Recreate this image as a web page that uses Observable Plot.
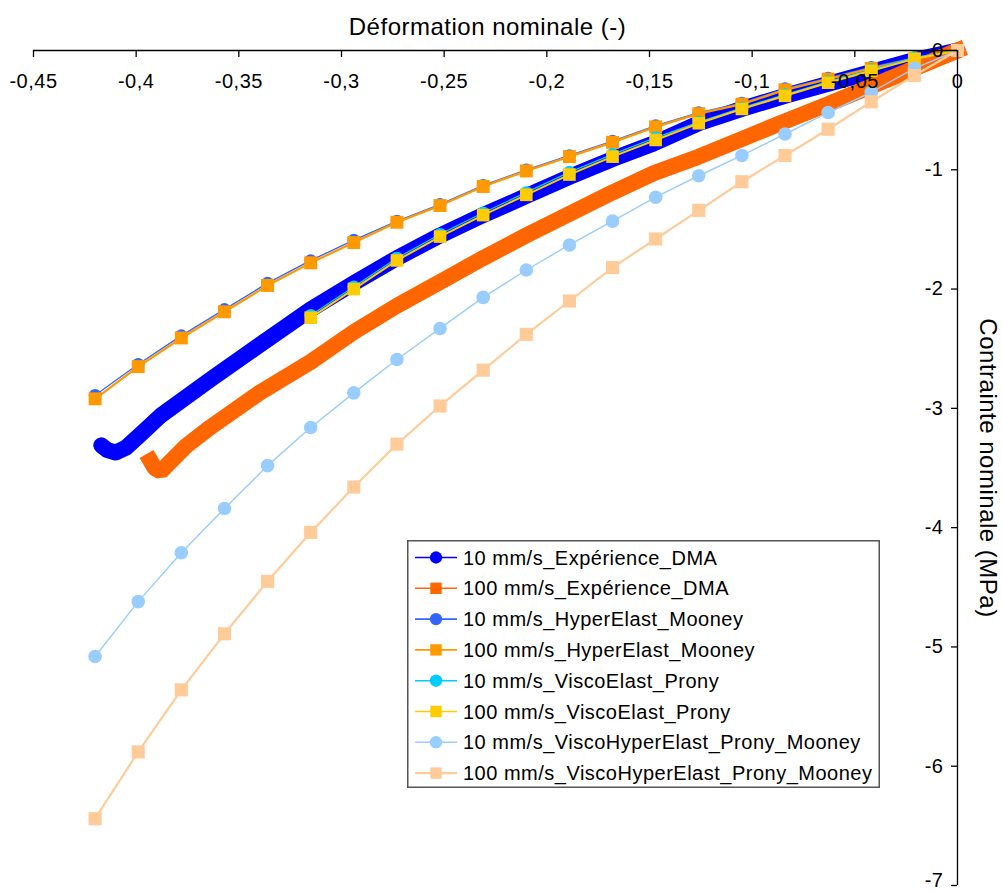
<!DOCTYPE html>
<html>
<head>
<meta charset="utf-8">
<script src="https://cdn.jsdelivr.net/npm/d3@7"></script>
<script src="https://cdn.jsdelivr.net/npm/@observablehq/plot@0.6"></script>
<style>
  html, body { margin: 0; padding: 0; background: white; }
  #wrap { position: relative; width: 1002px; height: 891px; font-family: "Liberation Sans", Arial, sans-serif; }
  #legend { position: absolute; left: 407px; top: 540px; }
</style>
</head>
<body>
<div id="wrap"></div>
<script>
// ---- axis ticks ----
const xTickValues = [-0.45, -0.4, -0.35, -0.3, -0.25, -0.2, -0.15, -0.1, -0.05, 0];
const xTickLabels = ["-0,45", "-0,4", "-0,35", "-0,3", "-0,25", "-0,2", "-0,15", "-0,1", "-0,05", "0"];
const yTickValues = [0, -1, -2, -3, -4, -5, -6, -7];
const yTickLabels = ["0", "-1", "-2", "-3", "-4", "-5", "-6", "-7"];

// ---- series names ----
const seriesNames = [
  "10 mm/s_Expérience_DMA",
  "100 mm/s_Expérience_DMA",
  "10 mm/s_HyperElast_Mooney",
  "100 mm/s_HyperElast_Mooney",
  "10 mm/s_ViscoElast_Prony",
  "100 mm/s_ViscoElast_Prony",
  "10 mm/s_ViscoHyperElast_Prony_Mooney",
  "100 mm/s_ViscoHyperElast_Prony_Mooney"
];
const seriesColors = ["#0000FF", "#FF6600", "#3366FF", "#FF9900", "#00CCFF", "#FFCC00", "#99CCFF", "#FFCC99"];
const seriesSymbols = ["circle", "square", "circle", "square", "circle", "square", "circle", "square"];

// ---- experimental data ----
const expStrain10 = [0, -0.021, -0.042, -0.063, -0.084, -0.105, -0.126, -0.148, -0.168, -0.189, -0.21, -0.231, -0.252, -0.273, -0.294, -0.315, -0.340, -0.364, -0.388, -0.398, -0.405, -0.410, -0.414, -0.417];
const expStress10 = [0, -0.08, -0.18, -0.28, -0.38, -0.49, -0.61, -0.78, -0.91, -1.06, -1.22, -1.38, -1.55, -1.74, -1.95, -2.17, -2.47, -2.76, -3.06, -3.22, -3.33, -3.37, -3.35, -3.31];

const expStrain100 = [0, -0.021, -0.042, -0.063, -0.085, -0.106, -0.126, -0.148, -0.168, -0.189, -0.21, -0.231, -0.252, -0.273, -0.294, -0.315, -0.340, -0.364, -0.376, -0.384, -0.388, -0.391, -0.393];
const expStress100 = [0, -0.15, -0.30, -0.45, -0.60, -0.75, -0.89, -1.03, -1.19, -1.37, -1.55, -1.74, -1.94, -2.14, -2.36, -2.61, -2.87, -3.16, -3.32, -3.46, -3.53, -3.50, -3.44];

// ---- model data ----
const strainModel = [-0.42, -0.399, -0.378, -0.357, -0.336, -0.315, -0.294, -0.273, -0.252, -0.231, -0.21, -0.189, -0.168, -0.147, -0.126, -0.105, -0.084, -0.063, -0.042, -0.021, 0];
const mooney10  = [-2.89, -2.63, -2.39, -2.17, -1.95, -1.76, -1.59, -1.43, -1.29, -1.13, -1.00, -0.88, -0.76, -0.63, -0.52, -0.44, -0.32, -0.23, -0.14, -0.06, 0];
const mooney100 = [-2.92, -2.65, -2.41, -2.19, -1.97, -1.78, -1.61, -1.44, -1.30, -1.14, -1.01, -0.89, -0.77, -0.64, -0.53, -0.45, -0.33, -0.24, -0.15, -0.07, 0];

const strainProny = [-0.315, -0.294, -0.273, -0.252, -0.231, -0.21, -0.189, -0.168, -0.147, -0.126, -0.105, -0.084, -0.063, -0.042, -0.021, 0];
const prony10  = [-2.22, -1.98, -1.74, -1.54, -1.36, -1.19, -1.02, -0.87, -0.73, -0.60, -0.48, -0.37, -0.26, -0.16, -0.06, 0];
const prony100 = [-2.24, -2.00, -1.76, -1.56, -1.38, -1.21, -1.04, -0.89, -0.75, -0.61, -0.49, -0.38, -0.27, -0.17, -0.07, 0];

const viscoHyper10  = [-5.08, -4.62, -4.21, -3.84, -3.48, -3.16, -2.87, -2.59, -2.33, -2.07, -1.84, -1.63, -1.43, -1.23, -1.05, -0.88, -0.70, -0.52, -0.35, -0.15, 0];
const viscoHyper100 = [-6.44, -5.88, -5.36, -4.89, -4.45, -4.04, -3.66, -3.30, -2.98, -2.68, -2.38, -2.10, -1.82, -1.58, -1.34, -1.10, -0.88, -0.66, -0.43, -0.21, 0];

// ---- build tables ----
const zip = (xs, ys) => xs.map((x, i) => ({x, y: ys[i]}));
const exp10 = zip(expStrain10, expStress10);
const exp100 = zip(expStrain100, expStress100);
const modelSeries = [
  {data: zip(strainModel, mooney10), i: 2, r: 6.3, sw: 1.3},
  {data: zip(strainModel, mooney100), i: 3, r: 7.3, sw: 2.3},
  {data: zip(strainProny, prony10), i: 4, r: 6.3, sw: 1.3},
  {data: zip(strainProny, prony100), i: 5, r: 7.1, sw: 2},
  {data: zip(strainModel, viscoHyper10), i: 6, r: 6.8, sw: 1.4},
  {data: zip(strainModel, viscoHyper100), i: 7, r: 7.4, sw: 2.2}
];

const W = 1002, H = 891, ML = 33, MR = 45, MT = 50, MB = 6;
const frameW = W - ML - MR, frameH = H - MT - MB;
const FONT = "Liberation Sans, Arial, sans-serif";

const marks = [
  Plot.line(exp10, {x: "x", y: "y", stroke: seriesColors[0], strokeWidth: 16, strokeLinecap: "round", strokeLinejoin: "round"}),
  Plot.line(exp100, {x: "x", y: "y", stroke: seriesColors[1], strokeWidth: 16, strokeLinecap: "square", strokeLinejoin: "miter"})
];
for (const s of modelSeries) {
  marks.push(Plot.line(s.data, {x: "x", y: "y", stroke: seriesColors[s.i], strokeWidth: s.sw}));
  marks.push(Plot.dot(s.data, {x: "x", y: "y", r: s.r, symbol: seriesSymbols[s.i], fill: seriesColors[s.i], stroke: "none"}));
}
marks.push(
  Plot.ruleY([0], {stroke: "black", strokeWidth: 1.3}),
  Plot.ruleX([0], {stroke: "black", strokeWidth: 1.3}),
  Plot.tickX(xTickValues, {x: d => d, stroke: "black", strokeWidth: 1.3, insetBottom: frameH - 7}),
  Plot.tickY(yTickValues, {y: d => d, stroke: "black", strokeWidth: 1.3, insetLeft: frameW - 6}),
  Plot.text(xTickValues, {x: d => d, frameAnchor: "top", dy: 31, lineAnchor: "middle", text: (d, i) => xTickLabels[i], fontSize: 20, fill: "black"}),
  Plot.text(yTickValues.slice(0, 7), {y: d => d, frameAnchor: "right", dx: -14, textAnchor: "end", lineAnchor: "middle", text: (d, i) => yTickLabels[i], fontSize: 20, fill: "black"}),
  Plot.text(yTickValues.slice(7), {y: d => d, frameAnchor: "right", dx: -14, dy: 1, textAnchor: "end", lineAnchor: "bottom", text: (d, i) => yTickLabels[7 + i], fontSize: 20, fill: "black"}),
  Plot.text(["Déformation nominale (-)"], {frameAnchor: "top", dx: -8, dy: -23, lineAnchor: "middle", textAnchor: "middle", fontSize: 24, fill: "black"}),
  Plot.text(["Contrainte nominale (MPa)"], {frameAnchor: "right", dx: 30, rotate: 90, textAnchor: "middle", lineAnchor: "middle", fontSize: 24, fill: "black"})
);

const chart = Plot.plot({
  width: W, height: H,
  marginLeft: ML, marginRight: MR, marginTop: MT, marginBottom: MB,
  x: {domain: [-0.45, 0], axis: null},
  y: {domain: [-7, 0], axis: null},
  style: {fontFamily: FONT, background: "white", overflow: "visible"},
  marks
});
chart.querySelectorAll("text").forEach(t => t.style.letterSpacing = "0.5px");
document.getElementById("wrap").appendChild(chart);

// ---- legend ----
const LW = 473, LH = 248, rowH = 30.8, row0 = 17.5;
const leg = d3.select("#wrap").append("svg")
  .attr("id", "legend").attr("width", LW).attr("height", LH)
  .style("position", "absolute").style("left", "407px").style("top", "540px");
leg.append("rect").attr("x", 0.75).attr("y", 0.75).attr("width", LW - 1.5).attr("height", LH - 1.5)
  .attr("fill", "white").attr("stroke", "#555").attr("stroke-width", 1.5);
seriesNames.forEach((name, i) => {
  const y = row0 + i * rowH;
  const g = leg.append("g").attr("transform", `translate(0,${y})`);
  g.append("line").attr("x1", 8).attr("x2", 50).attr("y1", 0).attr("y2", 0)
    .attr("stroke", seriesColors[i]).attr("stroke-width", i === 7 ? 2.2 : 1.6);
  const sym = seriesSymbols[i] === "circle" ? d3.symbolCircle : d3.symbolSquare;
  g.append("path").attr("transform", "translate(29,0)")
    .attr("d", d3.symbol(sym, seriesSymbols[i] === "circle" ? 120 : 130)())
    .attr("fill", seriesColors[i]);
  g.append("text").attr("x", 56).attr("y", 0).attr("dy", "0.35em")
    .attr("font-family", FONT).attr("font-size", 20).attr("letter-spacing", "0.5px")
    .attr("fill", "black").text(name);
});
</script>
</body>
</html>
